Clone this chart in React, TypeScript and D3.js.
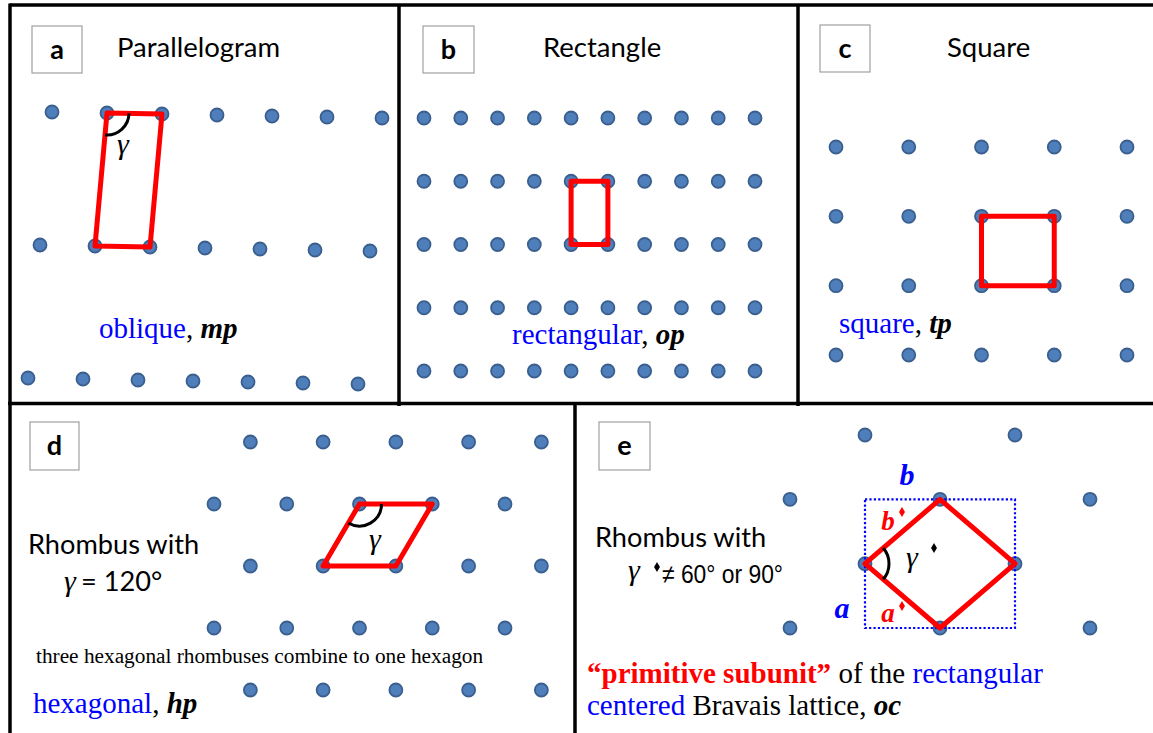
import React from 'react';
import * as d3 from 'd3';

// lattice data, one set per panel (indices in lattice units)
const obliqueCols = [0, 1, 2, 3, 4, 5, 6];
const obliqueRows = [0, 1, 2];
const obliqueCell = [[1, 0], [2, 0], [2, 1], [1, 1]];

const rectCols = [0, 1, 2, 3, 4, 5, 6, 7, 8, 9];
const rectRows = [0, 1, 2, 3, 4];
const rectCell = [[4, 1], [5, 1], [5, 2], [4, 2]];

const squareCols = [0, 1, 2, 3, 4];
const squareRows = [0, 1, 2, 3];
const squareCell = [[2, 1], [3, 1], [3, 2], [2, 2]];

const hexCols = [0, 1, 2, 3, 4];
const hexRows = [0, 1, 2, 3, 4];
const hexCell = [[2, 1], [3, 1], [2.5, 2], [1.5, 2]];

const centeredPoints = [[1, 0], [3, 0], [0, 1], [2, 1], [4, 1], [1, 2], [3, 2], [0, 3], [2, 3], [4, 3]];
const centeredCell = [[2, 1], [3, 2], [2, 3], [1, 2]];
const centeredBox = [[1, 1], [3, 3]];

const panelLetters = ['a', 'b', 'c', 'd', 'e'];
const panelTitles = ['Parallelogram', 'Rectangle', 'Square'];

const W = 1153;
const H = 733;
const SANS = 'Lato, "Open Sans", sans-serif';
const SERIF = '"Liberation Serif", "Times New Roman", serif';
const DOT_FILL = '#4f7fba';
const DOT_STROKE = '#3a5f8f';
const BLUE = '#0000ff';
const RED = '#ff0000';

// scales
const aX = d3.scaleLinear().domain([0, 6]).range([52, 382]);
const aShift = d3.scaleLinear().domain([0, 2]).range([0, -24]);
const aY = d3.scaleLinear().domain([0, 2]).range([112, 378]);
const aTilt = d3.scaleLinear().domain([0, 6]).range([0, 6]);
const obl = (i: number, j: number) => [aX(i) + aShift(j), aY(j) + aTilt(i)];

const bX = d3.scaleLinear().domain([0, 9]).range([424, 755]);
const bY = d3.scaleLinear().domain([0, 4]).range([118, 371]);

const cX = d3.scaleLinear().domain([0, 4]).range([836, 1127]);
const cY = d3.scaleLinear().domain([0, 3]).range([147, 355]);

const dX = d3.scaleLinear().domain([0, 4]).range([214, 505]);
const dY = d3.scaleLinear().domain([0, 4]).range([442, 690]);

const eX = d3.scaleLinear().domain([0, 4]).range([790, 1090]);
const eY = d3.scaleLinear().domain([0, 3]).range([435, 628]);

const line = d3.line().curve(d3.curveLinearClosed);
const diamond = d3.symbol().type(d3.symbolDiamond).size(30)();

function angleArc(v: number[], p1: number[], p2: number[], r: number) {
  const a1 = Math.atan2(p1[1] - v[1], p1[0] - v[0]);
  const a2 = Math.atan2(p2[1] - v[1], p2[0] - v[0]);
  const p = d3.path();
  p.moveTo(v[0] + r * Math.cos(a1), v[1] + r * Math.sin(a1));
  p.arc(v[0], v[1], r, a1, a2, a2 < a1);
  return p.toString();
}

const Dot = ({ x, y }: { x: number; y: number }) => (
  <circle cx={x} cy={y} r={6.5} fill={DOT_FILL} stroke={DOT_STROKE} strokeWidth={1.8} />
);

const LabelBox = ({ x, y, w, h, t }: any) => (
  <g>
    <rect x={x} y={y} width={w} height={h} fill="#fff" stroke="#a0a0a0" strokeWidth={1.2} />
    <text x={x + w / 2} y={y + h / 2 + 9} textAnchor="middle" fontFamily={SANS} fontWeight={700} fontSize={27}>{t}</text>
  </g>
);

export default function App() {
  const aCell = obliqueCell.map(([i, j]) => obl(i, j)) as [number, number][];
  const bCell = rectCell.map(([i, j]) => [bX(i), bY(j)]) as [number, number][];
  const cCell = squareCell.map(([i, j]) => [cX(i), cY(j)]) as [number, number][];
  const dCell = hexCell.map(([i, j]) => [dX(i), dY(j)]) as [number, number][];
  const eCell = centeredCell.map(([i, j]) => [eX(i), eY(j)]) as [number, number][];
  const hexPts: number[][] = [];
  hexRows.forEach(j => hexCols.forEach(i => hexPts.push([dX(i + (j % 2 === 0 ? 0.5 : 0)), dY(j)])));

  return (
    <div>
      <style>{'body{margin:0}'}</style>
      <svg width={W} height={H} style={{ display: 'block', background: '#fff' }}>
        {/* panel a */}
        {obliqueRows.map(j => obliqueCols.map(i => {
          const [x, y] = obl(i, j);
          return <Dot key={`a${i}-${j}`} x={x} y={y} />;
        }))}
        <path d={line(aCell) || ''} fill="none" stroke={RED} strokeWidth={5} strokeLinejoin="round" />
        <path d={angleArc(aCell[0], aCell[1], aCell[3], 22)} fill="none" stroke="#000" strokeWidth={3} />
        <text x={123} y={154} textAnchor="middle" fontFamily={SERIF} fontStyle="italic" fontSize={30}>γ</text>
        <LabelBox x={32} y={26} w={50} h={47} t={panelLetters[0]} />
        <text x={117} y={57} fontFamily={SANS} fontSize={27.5}>{panelTitles[0]}</text>
        <text x={99} y={338} fontFamily={SERIF} fontSize={29}>
          <tspan fill={BLUE}>oblique</tspan>, <tspan fontWeight={700} fontStyle="italic">mp</tspan>
        </text>

        {/* panel b */}
        {rectRows.map(j => rectCols.map(i => <Dot key={`b${i}-${j}`} x={bX(i)} y={bY(j)} />))}
        <path d={line(bCell) || ''} fill="none" stroke={RED} strokeWidth={5} strokeLinejoin="round" />
        <LabelBox x={423} y={26} w={51} h={47} t={panelLetters[1]} />
        <text x={543} y={57} fontFamily={SANS} fontSize={27.5}>{panelTitles[1]}</text>
        <text x={512} y={344} fontFamily={SERIF} fontSize={29}>
          <tspan fill={BLUE}>rectangular</tspan>, <tspan fontWeight={700} fontStyle="italic">op</tspan>
        </text>

        {/* panel c */}
        {squareRows.map(j => squareCols.map(i => <Dot key={`c${i}-${j}`} x={cX(i)} y={cY(j)} />))}
        <path d={line(cCell) || ''} fill="none" stroke={RED} strokeWidth={5} strokeLinejoin="round" />
        <LabelBox x={820} y={25} w={50} h={47} t={panelLetters[2]} />
        <text x={947} y={57} fontFamily={SANS} fontSize={27.5}>{panelTitles[2]}</text>
        <text x={839} y={333} fontFamily={SERIF} fontSize={29}>
          <tspan fill={BLUE}>square</tspan>, <tspan fontWeight={700} fontStyle="italic">tp</tspan>
        </text>

        {/* panel d */}
        {hexPts.map(([x, y], k) => <Dot key={`d${k}`} x={x} y={y} />)}
        <path d={line(dCell) || ''} fill="none" stroke={RED} strokeWidth={5} strokeLinejoin="round" />
        <path d={angleArc(dCell[0], dCell[1], dCell[3], 22)} fill="none" stroke="#000" strokeWidth={3} />
        <text x={375} y={549} textAnchor="middle" fontFamily={SERIF} fontStyle="italic" fontSize={30}>γ</text>
        <LabelBox x={30} y={422} w={49} h={48} t={panelLetters[3]} />
        <text x={28} y={554} fontFamily={SANS} fontSize={27.2}>Rhombus with</text>
        <text x={64} y={591} fontFamily={SERIF} fontStyle="italic" fontSize={30}>γ</text>
        <text x={81} y={591} fontFamily={SANS} fontSize={27.2}>= 120°</text>
        <text x={36} y={663} fontFamily={SERIF} fontSize={21.3}>three hexagonal rhombuses combine to one hexagon</text>
        <text x={33} y={713} fontFamily={SERIF} fontSize={29}>
          <tspan fill={BLUE}>hexagonal</tspan>, <tspan fontWeight={700} fontStyle="italic">hp</tspan>
        </text>

        {/* panel e */}
        {centeredPoints.map(([i, j]) => <Dot key={`e${i}-${j}`} x={eX(i)} y={eY(j)} />)}
        <rect x={eX(centeredBox[0][0])} y={eY(centeredBox[0][1])}
          width={eX(centeredBox[1][0]) - eX(centeredBox[0][0])} height={eY(centeredBox[1][1]) - eY(centeredBox[0][1])}
          fill="none" stroke={BLUE} strokeWidth={2.2} strokeDasharray="2.2 2.2" />
        <path d={line(eCell) || ''} fill="none" stroke={RED} strokeWidth={5} strokeLinejoin="round" />
        <path d={angleArc(eCell[3], eCell[0], eCell[2], 24)} fill="none" stroke="#000" strokeWidth={3} />
        <text x={912} y={567} textAnchor="middle" fontFamily={SERIF} fontStyle="italic" fontSize={30}>γ</text>
        <path d={diamond || ''} transform="translate(934,548)" fill="#000" />
        <text x={907} y={485} textAnchor="middle" fontFamily={SERIF} fontWeight={700} fontStyle="italic" fontSize={30} fill={BLUE}>b</text>
        <text x={842} y={618} textAnchor="middle" fontFamily={SERIF} fontWeight={700} fontStyle="italic" fontSize={30} fill={BLUE}>a</text>
        <text x={888} y={530} textAnchor="middle" fontFamily={SERIF} fontWeight={700} fontStyle="italic" fontSize={27} fill={RED}>b</text>
        <path d={diamond || ''} transform="translate(902,512)" fill={RED} />
        <text x={888} y={622} textAnchor="middle" fontFamily={SERIF} fontWeight={700} fontStyle="italic" fontSize={27} fill={RED}>a</text>
        <path d={diamond || ''} transform="translate(902,606)" fill={RED} />
        <LabelBox x={599} y={422} w={51} h={48} t={panelLetters[4]} />
        <text x={595} y={547} fontFamily={SANS} fontSize={27.2}>Rhombus with</text>
        <text x={628} y={580} fontFamily={SERIF} fontStyle="italic" fontSize={30}>γ</text>
        <path d={diamond || ''} transform="translate(657,567)" fill="#000" />
        <text x={662} y={583} fontFamily='"Liberation Sans", Arial, sans-serif' fontSize={26} textLength={121} lengthAdjust="spacingAndGlyphs">≠ 60° or 90°</text>
        <text x={587} y={683} fontFamily={SERIF} fontSize={29}>
          <tspan fill={RED} fontWeight={700}>“primitive subunit”</tspan> of the <tspan fill={BLUE}>rectangular</tspan>
        </text>
        <text x={587} y={715} fontFamily={SERIF} fontSize={29}>
          <tspan fill={BLUE}>centered</tspan> Bravais lattice, <tspan fontWeight={700} fontStyle="italic">oc</tspan>
        </text>

        {/* panel frames */}
        <g stroke="#000" strokeWidth={3.5} fill="none">
          <line x1={10} y1={5} x2={W + 5} y2={5} />
          <line x1={10} y1={3.5} x2={10} y2={H + 5} />
          <line x1={8} y1={403.5} x2={W + 5} y2={403.5} />
          <line x1={399} y1={5} x2={399} y2={406} />
          <line x1={798} y1={5} x2={798} y2={406} />
          <line x1={575} y1={403.5} x2={575} y2={H + 5} />
        </g>
      </svg>
    </div>
  );
}
